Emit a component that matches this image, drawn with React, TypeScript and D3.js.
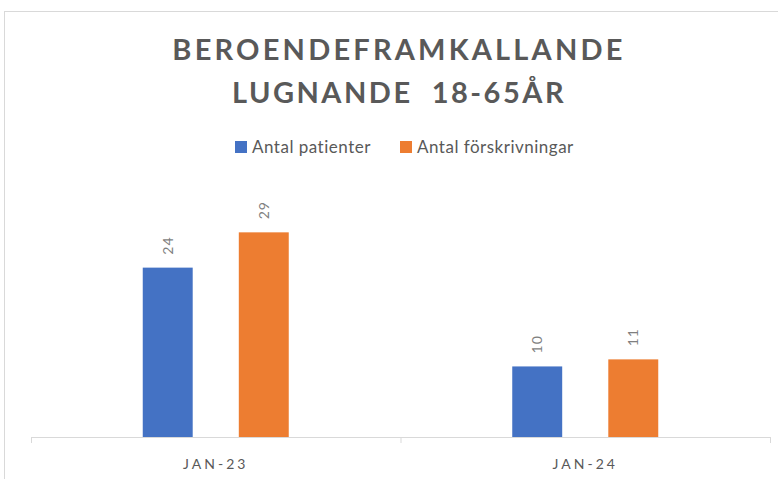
import * as React from "react";
import { scaleBand, scaleLinear } from "d3";

const categories = ["JAN-23", "JAN-24"];
const seriesNames = ["Antal patienter", "Antal förskrivningar"];
const patienter = [24, 10];
const forskrivningar = [29, 11];
const titleLines = ["BEROENDEFRAMKALLANDE", "LUGNANDE  18-65ÅR"];

const colors = ["#4472C4", "#ED7D31"];

export default function App() {
  const width = 778;
  const height = 479;
  const left = 31;
  const right = 770;
  const baseline = 437;

  const xScale = scaleBand().domain(categories).range([left, right]);
  const inner = scaleBand().domain(["0", "1"]).range([0, 146]).paddingInner(0.48);
  const yScale = scaleLinear().domain([0, 35]).range([baseline, baseline - 247]);

  const series = [patienter, forskrivningar];
  const font = "Lato, 'Open Sans', sans-serif";

  return (
    <svg
      width={width}
      height={height}
      style={{ position: "absolute", left: 0, top: 0, background: "#fff" }}
      fontFamily={font}
    >
      <rect x={4.5} y={11.5} width={800} height={500} fill="#fff" stroke="#d9d9d9" />
      {titleLines.map((t, i) => (
        <text
          key={t}
          x={399}
          y={60 + i * 43}
          textAnchor="middle"
          fontSize={29}
          fontWeight={700}
          fill="#595959"
          letterSpacing={i === 0 ? 3.2 : 2.5}
          style={{ whiteSpace: "pre" }}
        >
          {t}
        </text>
      ))}
      {/* legend */}
      {seriesNames.map((name, i) => {
        const lx = i === 0 ? 235 : 400;
        return (
          <g key={name} transform={`translate(${lx},141)`}>
            <rect width={12} height={12} fill={colors[i]} />
            <text x={17} y={11.5} fontSize={17} fill="#595959" letterSpacing={0.5}>
              {name}
            </text>
          </g>
        );
      })}
      {/* bars */}
      {categories.map((c, ci) => {
        const groupStart = (xScale(c) as number) + xScale.bandwidth() / 2 - 73;
        return (
          <g key={c}>
            {series.map((s, si) => {
              const bx = groupStart + (inner(`${si}`) as number);
              const bw = inner.bandwidth();
              const y = yScale(s[ci]);
              return (
                <g key={si}>
                  <rect x={bx} y={y} width={bw} height={baseline - y} fill={colors[si]} />
                  <text
                    transform={`translate(${bx + bw / 2 + 5},${y - 13}) rotate(-90)`}
                    fontSize={14}
                    fill="#7f7f7f"
                    letterSpacing={1}
                  >
                    {s[ci]}
                  </text>
                </g>
              );
            })}
          </g>
        );
      })}
      {/* axis */}
      <line x1={left} x2={right} y1={baseline + 0.5} y2={baseline + 0.5} stroke="#d9d9d9" />
      {[left, ...categories.map((c) => (xScale(c) as number) + xScale.bandwidth())].map((tx, i) => (
        <line key={i} x1={tx + 0.5} x2={tx + 0.5} y1={baseline} y2={baseline + 6} stroke="#d9d9d9" />
      ))}
      {categories.map((c) => (
        <text
          key={c}
          x={(xScale(c) as number) + xScale.bandwidth() / 2}
          y={469}
          textAnchor="middle"
          fontSize={14}
          fill="#595959"
          letterSpacing={3}
        >
          {c}
        </text>
      ))}
    </svg>
  );
}
